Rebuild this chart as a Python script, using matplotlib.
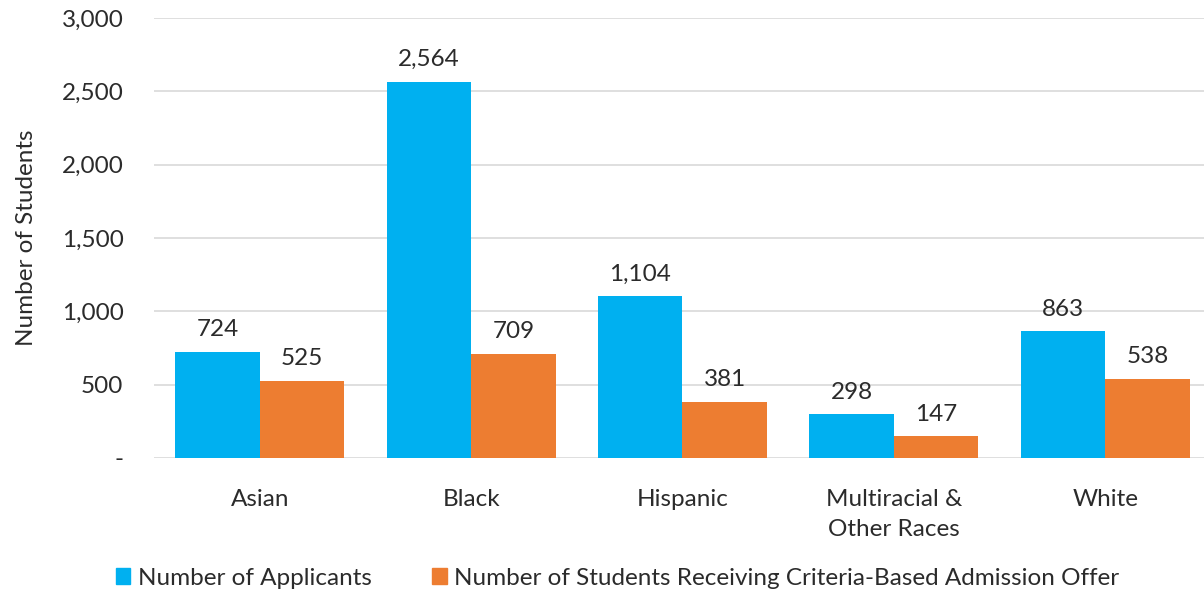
import matplotlib.pyplot as plt
from matplotlib.patches import Patch
import numpy as np

plt.rcParams['font.family'] = ['Lato', 'DejaVu Sans']

groups = ["Asian", "Black", "Hispanic", "Multiracial &\nOther Races", "White"]
applicants = [724, 2564, 1104, 298, 863]
offers = [525, 709, 381, 147, 538]
series_names = ["Number of Applicants",
                "Number of Students Receiving Criteria-Based Admission Offer"]
yticks = [0, 500, 1000, 1500, 2000, 2500, 3000]

blue = "#00b0f0"
orange = "#ed7d31"
text_col = "#2b2b2b"
fs = 17.5

fig = plt.figure(figsize=(12.04, 5.93), dpi=100)
ax = fig.add_axes([154 / 1204, 1 - 458 / 593, 1 - 154 / 1204, 440 / 593])

x = np.arange(len(groups))
w = 0.4
b1 = ax.bar(x - w / 2, applicants, w, color=blue, zorder=3)
b2 = ax.bar(x + w / 2, offers, w, color=orange, zorder=3)

# value labels above each bar
for bars, vals in [(b1, applicants), (b2, offers)]:
    for r, v in zip(bars, vals):
        ax.text(r.get_x() + r.get_width() / 2, v + 80, f"{v:,}",
                ha="center", va="bottom", fontsize=fs, color=text_col)

ax.set_xlim(-0.5, 4.467)
ax.set_ylim(0, 3000)
ax.set_yticks(yticks)
ax.set_yticklabels(["-"] + [f"{t:,}" for t in yticks[1:]])
ax.set_xticks(x)
ax.set_xticklabels(groups, linespacing=1.55)
ax.tick_params(length=0, labelsize=fs, colors=text_col)
ax.tick_params(axis="y", pad=22)
ax.tick_params(axis="x", pad=22)
ax.grid(axis="y", color="#d9d9d9", linewidth=1.2, zorder=0)
for s in ax.spines.values():
    s.set_visible(False)
ax.set_ylabel("Number of Students", fontsize=fs, color=text_col, labelpad=18)

handles = [Patch(color=blue, label=series_names[0]),
           Patch(color=orange, label=series_names[1])]
fig.legend(handles=handles, loc="center", bbox_to_anchor=(0.513, 0.025),
           ncol=2, frameon=False, fontsize=fs, handlelength=0.6, handleheight=0.6,
           handletextpad=0.3, columnspacing=2.5, labelcolor=text_col)

fig.savefig("out.png", dpi=100)
